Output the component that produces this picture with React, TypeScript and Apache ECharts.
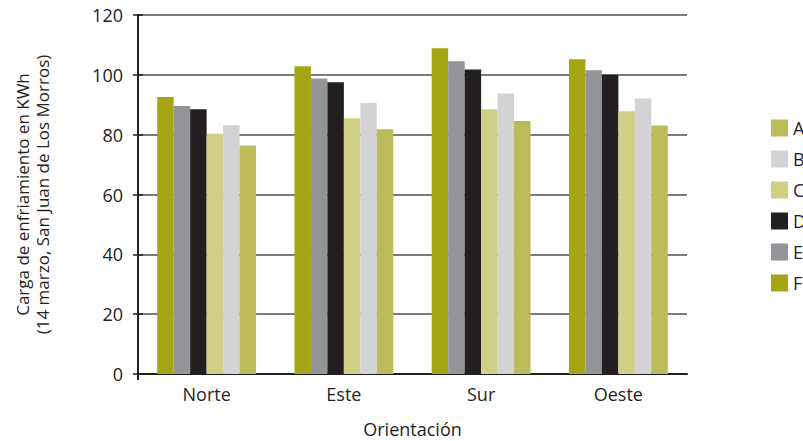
import React, { useEffect, useRef } from "react";
import * as echarts from "echarts";

const categories = ["Norte", "Este", "Sur", "Oeste"];
const seriesNames = ["F", "E", "D", "C", "B", "A"];
const legendNames = ["A", "B", "C", "D", "E", "F"];
const valuesF = [92.6, 102.9, 108.9, 105.2];
const valuesE = [89.6, 98.8, 104.5, 101.5];
const valuesD = [88.5, 97.5, 101.8, 100.0];
const valuesC = [80.3, 85.5, 88.5, 87.8];
const valuesB = [83.2, 90.6, 93.8, 92.1];
const valuesA = [76.4, 81.8, 84.6, 83.1];
const yTicks = [0, 20, 40, 60, 80, 100, 120];

const colors: Record<string, string> = {
  A: "#bcbb5a",
  B: "#d1d3d4",
  C: "#cfcf85",
  D: "#231f20",
  E: "#939598",
  F: "#a4a613",
};

const dataByName: Record<string, number[]> = {
  F: valuesF,
  E: valuesE,
  D: valuesD,
  C: valuesC,
  B: valuesB,
  A: valuesA,
};

const FONT = "'Open Sans', 'Noto Sans', sans-serif";
const TEXT = "#231f20";

export default function App() {
  const ref = useRef<HTMLDivElement>(null);
  useEffect(() => {
    if (!ref.current) return;
    const chart = echarts.init(ref.current, null, { renderer: "svg" });
    const yMin = yTicks[0];
    const yMax = yTicks[yTicks.length - 1];
    const yInterval = yTicks[1] - yTicks[0];
    chart.setOption({
      animation: false,
      backgroundColor: "#ffffff",
      textStyle: { fontFamily: FONT, color: TEXT },
      grid: {
        left: 138,
        right: 116,
        top: 15,
        bottom: 67,
        containLabel: false,
        outerBoundsMode: "none",
      },
      legend: {
        data: legendNames,
        orient: "vertical",
        left: 766,
        top: 114,
        itemWidth: 17,
        itemHeight: 17,
        itemGap: 13,
        icon: "rect",
        textStyle: { fontFamily: FONT, fontSize: 18, color: TEXT },
      },
      xAxis: {
        type: "category",
        data: categories,
        name: "Orientación",
        nameLocation: "middle",
        nameGap: 46,
        nameTextStyle: { fontFamily: FONT, fontSize: 18, color: TEXT },
        axisLine: { lineStyle: { color: TEXT, width: 2 } },
        axisTick: { show: false },
        axisLabel: { fontFamily: FONT, fontSize: 18, color: TEXT, margin: 11 },
        splitLine: { show: false },
      },
      yAxis: [
        {
          type: "value",
          min: yMin,
          max: yMax,
          interval: yInterval,
          name: "Carga de enfriamiento en KWh\n(14 marzo, San Juan de Los Morros)",
          nameLocation: "middle",
          nameGap: 86,
          nameTextStyle: { fontFamily: FONT, fontSize: 17, color: TEXT, lineHeight: 20 },
          axisLine: { show: true, lineStyle: { color: TEXT, width: 2 } },
          axisTick: { show: true, length: 5, lineStyle: { color: TEXT, width: 1.5 } },
          axisLabel: { fontFamily: FONT, fontSize: 18, color: TEXT, margin: 15 },
          splitLine: { show: true, lineStyle: { color: "#505052", width: 1.5 } },
        },
        {
          type: "value",
          min: yMin,
          max: yMax,
          interval: yInterval,
          position: "left",
          offset: 0,
          axisLine: { show: true, lineStyle: { color: TEXT, width: 2 } },
          axisTick: { show: true, inside: true, length: 5, lineStyle: { color: TEXT, width: 1.5 } },
          axisLabel: { show: false },
          splitLine: { show: false },
        },
      ],
      graphic: [
        {
          type: "line",
          shape: { x1: 138, y1: 374, x2: 138, y2: 380 },
          style: { stroke: TEXT, lineWidth: 2 },
        },
      ],
      series: seriesNames.map((n) => ({
        name: n,
        type: "bar",
        data: dataByName[n],
        itemStyle: { color: colors[n] },
        barGap: "0%",
        barCategoryGap: "28%",
        z: 3,
      })),
    });
    return () => chart.dispose();
  }, []);
  return <div ref={ref} style={{ width: 803, height: 441, position: "absolute", left: 0, top: 0 }} />;
}
